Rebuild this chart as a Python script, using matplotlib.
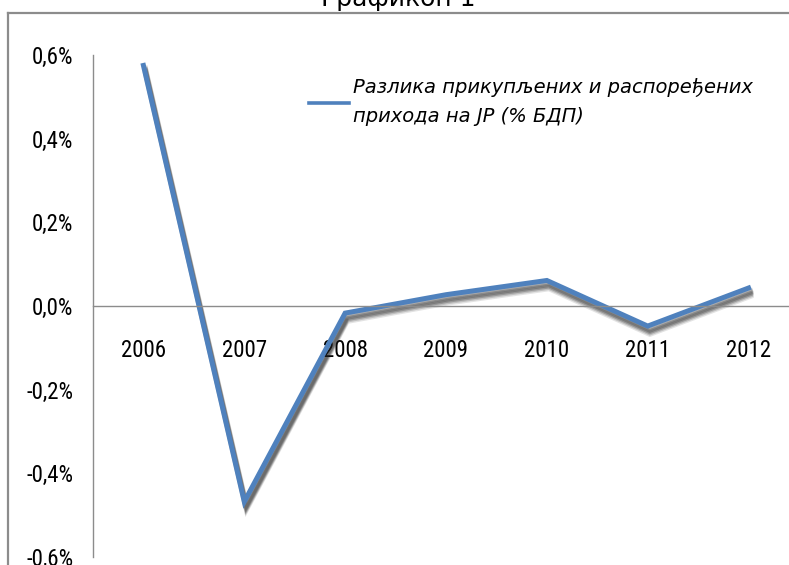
import matplotlib.pyplot as plt
import matplotlib.patheffects as pe
from matplotlib.lines import Line2D
from matplotlib import font_manager

years = ["2006", "2007", "2008", "2009", "2010", "2011", "2012"]
values = [0.575, -0.468, -0.017, 0.027, 0.061, -0.048, 0.043]
y_ticks = [-0.6, -0.4, -0.2, 0.0, 0.2, 0.4, 0.6]
series_label = "Разлика прикупљених и распоређених\nприхода на ЈР (% БДП)"

# pick a narrow face if one is installed (reference uses a Calibri-like font)
installed = {f.name for f in font_manager.fontManager.ttflist}
narrow = next((n for n in ["Liberation Sans Narrow", "DejaVu Sans Condensed",
                           "Roboto Condensed", "Open Sans Condensed", "Roboto"]
               if n in installed), "DejaVu Sans")
tick_size = 16.5 if "Narrow" in narrow or "Condensed" in narrow else 13

W, H = 789, 565
fig = plt.figure(figsize=(W / 100, H / 100), dpi=100)
fig.patch.set_facecolor("white")

# outer frame (only top-left part visible in the crop)
fx, fy = 8 / W, 1 - 13 / H
fig.add_artist(Line2D([fx, fx], [0, fy], color="#8c8c8c", lw=1.6, transform=fig.transFigure))
fig.add_artist(Line2D([fx, 1], [fy, fy], color="#8c8c8c", lw=1.6, transform=fig.transFigure))
fig.text(398 / W, 1 - 6 / H, "Графикон 1", ha="center", va="baseline",
         fontsize=18, color="black")

left, right = 93 / W, 799 / W
bottom, top = 8 / H, 1 - 55 / H
ax = fig.add_axes([left, bottom, right - left, top - bottom])
ax.set_facecolor("none")

x = list(range(len(years)))
shadow = [pe.SimpleLineShadow(offset=(1.5, -dy), shadow_color="#202020", alpha=a)
          for dy, a in [(6, 0.12), (5, 0.18), (4, 0.25), (3, 0.25), (2, 0.15)]]
ax.plot(x, values, color="#4F81BD", lw=3.6, solid_joinstyle="miter",
        label=series_label, path_effects=shadow + [pe.Normal()])

ax.spines["bottom"].set_position(("data", 0))
ax.set_xlim(-0.5, len(years) - 0.5)
ax.set_ylim(-0.6, 0.6)
ax.set_yticks(y_ticks)
ax.set_yticklabels([f"{v:.1f}%".replace(".", ",") for v in y_ticks])
ax.set_xticks(x)
ax.set_xticklabels(years)
for lab in ax.get_xticklabels() + ax.get_yticklabels():
    lab.set_fontfamily(narrow)
    lab.set_fontsize(tick_size)
ax.tick_params(axis="y", length=0, pad=14)
ax.tick_params(axis="x", length=0, pad=24)

for s in ["top", "right"]:
    ax.spines[s].set_visible(False)
ax.spines["left"].set_color("#8c8c8c")
ax.spines["left"].set_linewidth(1.0)
ax.spines["bottom"].set_color("#8c8c8c")
ax.spines["bottom"].set_linewidth(1.0)

leg = ax.legend(loc="upper left", bbox_to_anchor=((291 - 93) / (799 - 93), 0.99),
                frameon=False, handlelength=2.1, handletextpad=0.2,
                prop={"family": "DejaVu Sans", "style": "italic", "size": 14})
for t in leg.get_texts():
    t.set_linespacing(1.7)
for h in leg.legend_handles:
    h.set_path_effects([])
    h.set_linewidth(2.6)

fig.savefig("out.png", dpi=100)
